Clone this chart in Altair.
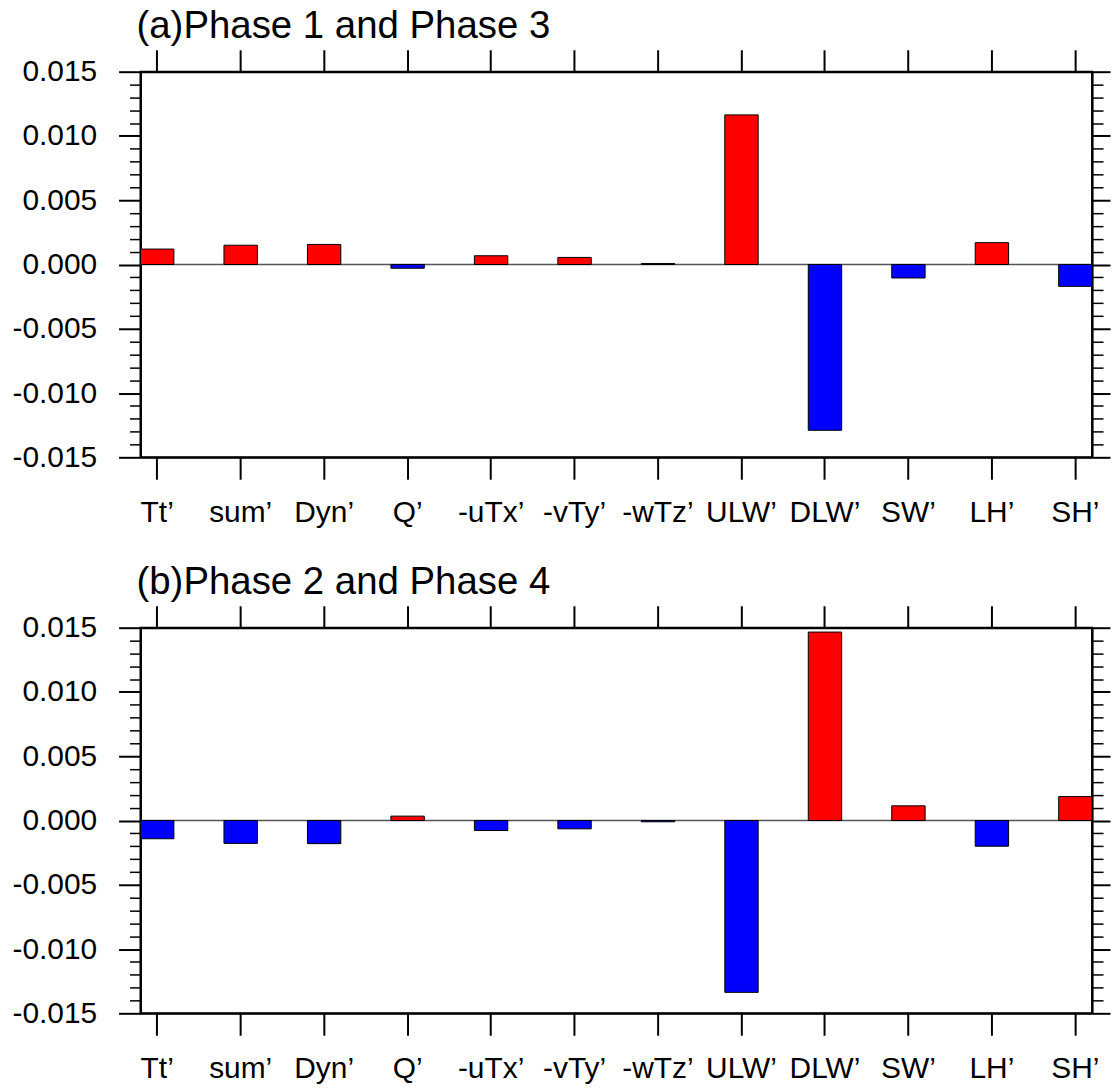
import altair as alt
import pandas as pd

categories = ["Tt’", "sum’", "Dyn’", "Q’", "-uTx’", "-vTy’", "-wTz’",
              "ULW’", "DLW’", "SW’", "LH’", "SH’"]
values_a = [0.0012, 0.0015, 0.00156, -0.00029, 0.00068, 0.00055, 0.00008,
            0.01164, -0.0129, -0.00105, 0.0017, -0.0017]
values_b = [-0.00142, -0.00178, -0.0018, 0.00034, -0.00078, -0.00065, -0.0001,
            -0.01337, 0.01466, 0.00114, -0.0020, 0.00186]
titles = ["(a)Phase 1 and Phase 3", "(b)Phase 2 and Phase 4"]

y_ticks = [round(-0.015 + 0.001 * i, 3) for i in range(31)]
FONT = "Liberation Sans"
W, H = 955, 387

major_test = "abs(round(datum.value * 1000)) % 5 == 0"
tick_size_l = {"condition": {"test": major_test, "value": 22}, "value": 11}
tick_size_r = {"condition": {"test": major_test, "value": 18}, "value": 11}
tick_width = {"condition": {"test": major_test, "value": 2}, "value": 1.5}
label_expr = ("abs(round(datum.value * 1000)) % 5 == 0 ? "
              "((datum.value < -0.0000001 ? '-' : '') + format(abs(datum.value), '.3f')) : ''")


def panel(vals, title):
    df = pd.DataFrame({"cat": categories, "val": vals})
    base = alt.Chart(df)
    xs = alt.Scale(paddingInner=0.6, paddingOuter=0)
    ys = alt.Scale(domain=[-0.015, 0.015], nice=False, zero=False)
    bars = base.mark_bar(stroke="black", strokeWidth=1).encode(
        x=alt.X("cat:N", sort=categories, scale=xs, title=None,
                axis=alt.Axis(orient="bottom", labelAngle=0, labelFont=FONT,
                              labelFontSize=30, labelColor="black",
                              labelPadding=18, tickSize=22, tickWidth=2,
                              tickColor="black", domainColor="black",
                              domainWidth=2, labelOverlap=False)),
        y=alt.Y("val:Q", scale=ys, title=None,
                axis=alt.Axis(orient="left", values=y_ticks, labelExpr=label_expr,
                              labelFont=FONT, labelFontSize=30, labelColor="black",
                              labelPadding=22, tickSize=tick_size_l,
                              tickWidth=tick_width, tickColor="black",
                              domainColor="black", domainWidth=2, grid=False,
                              labelOverlap=False, labelBound=False)),
        color=alt.condition("datum.val > 0", alt.value("#ff0000"), alt.value("#0000ff")),
    )
    ghost = base.mark_bar(opacity=0).encode(
        x=alt.X("cat:N", sort=categories, scale=xs, title=None,
                axis=alt.Axis(orient="top", labels=False, tickSize=22, tickWidth=2,
                              tickColor="black", domainColor="black", domainWidth=2)),
        y=alt.Y("val:Q", scale=ys, title=None,
                axis=alt.Axis(orient="right", values=y_ticks, labels=False,
                              tickSize=tick_size_r, tickWidth=tick_width,
                              tickColor="black", domainColor="black",
                              domainWidth=2, grid=False)),
    )
    zero = alt.Chart(pd.DataFrame({"z": [0.0]})).mark_rule(
        color="#555555", strokeWidth=1.5).encode(y=alt.Y("z:Q", scale=ys, axis=None))
    return alt.layer(zero, bars, ghost).resolve_axis(
        x="independent", y="independent"
    ).properties(
        width=W, height=H,
        title=alt.TitleParams(title, anchor="start", frame="group", font=FONT,
                              fontSize=38.5, fontWeight="normal", color="black",
                              offset=2, dx=-4),
    )


chart = alt.vconcat(panel(values_a, titles[0]), panel(values_b, titles[1]),
                    spacing=34).properties(
    padding={"left": 10, "top": 4, "right": 0, "bottom": 0},
    background="white",
).configure_view(stroke="black", strokeWidth=2)

chart.save("out.html", embed_options={"renderer": "svg", "actions": False})
